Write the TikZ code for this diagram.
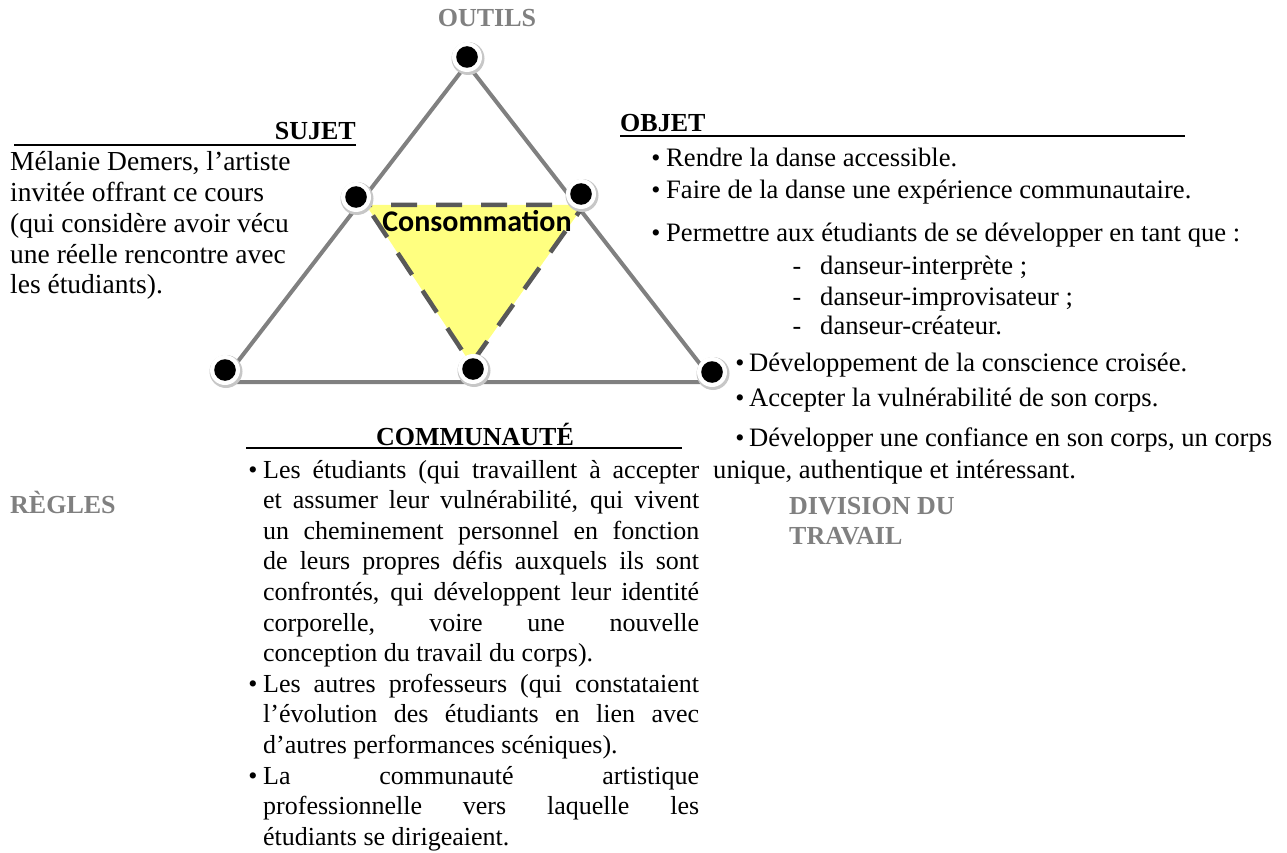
\documentclass[tikz,border=0pt]{standalone}
\usepackage{fontspec}
\setmainfont{Liberation Serif}
\newfontfamily\calibrifont{Carlito}
\usetikzlibrary{calc}
\definecolor{headgray}{RGB}{128,128,128}
\definecolor{edgegray}{RGB}{128,128,128}
\definecolor{dashgray}{RGB}{89,89,89}
\definecolor{consyellow}{RGB}{255,255,128}
\begin{document}
\begin{tikzpicture}[x=1pt,y=-1pt,
  txt/.style={inner sep=0pt, anchor=base west, font=\fontsize{26}{30}\selectfont},
  wtxt/.style={inner sep=0pt, anchor=base west, font=\fontsize{26.6}{30}\selectfont},
  stxt/.style={inner sep=0pt, anchor=base west, font=\fontsize{27.5}{30}\selectfont},
  head/.style={inner sep=0pt, anchor=base west, font=\fontsize{26}{30}\selectfont\bfseries},
  grayhead/.style={head, text=headgray},
  bul/.style={inner sep=0pt, anchor=base, font=\fontsize{26}{30}\selectfont},
  edge/.style={draw=edgegray, line width=4pt, line join=round},
  rule/.style={draw=black, line width=2.3pt},
  consborder/.style={draw=dashgray, line width=4.5pt, dash pattern=on 26pt off 19pt, dash phase=20pt},
]
\useasboundingbox (0,0) rectangle (1287,853);

% outer activity triangle
\coordinate (apex) at (467,64);
\coordinate (cornerL) at (222,382);
\coordinate (cornerR) at (714,382);
\draw[edge] (apex) -- (cornerL) -- (cornerR) -- cycle;

% inner consumption triangle
\coordinate (consTL) at (366,205);
\coordinate (consTR) at (584,205);
\coordinate (consB) at (471,364);
\fill[consyellow] (consTL) -- (consTR) -- (consB) -- cycle;
\draw[consborder] (consTL) -- (consTR) -- (consB) -- cycle;

% vertex dots
\coordinate (dOutils) at (467,57);
\coordinate (dSujet) at (356,197);
\coordinate (dObjet) at (581,194);
\coordinate (dRegles) at (225,370);
\coordinate (dComm) at (473,369);
\coordinate (dDiv) at (712,372);
\foreach \d in {dOutils,dSujet,dObjet,dRegles,dComm,dDiv} {
  \fill[black!22] ($(\d)+(1,1.5)$) circle (16.5);
  \fill[white] (\d) circle (15);
  \fill[black] (\d) circle (10.8);
}

\node[inner sep=0pt, anchor=base, font=\calibrifont\bfseries\fontsize{30}{30}\selectfont] (consLabel) at (477,231) {Consommation};

% pole labels
\node[grayhead, anchor=base] (outils) at (487,27) {OUTILS};
\node[grayhead] (regles) at (10,513) {RÈGLES};
\node[grayhead] (division) at (789,514) {DIVISION DU};
\node[grayhead] (travail) at (789,544) {TRAVAIL};

% subject
\node[head, anchor=base east] (sujet) at (356,140) {SUJET};
\draw[rule] ([yshift=-5pt]sujet.base east) -- ++(-342,0);
\node[stxt] (s1) at (10,171) {Mélanie Demers, l’artiste};
\node[stxt] (s2) at (10,202) {invitée offrant ce cours};
\node[stxt] (s3) at (10,233) {(qui considère avoir vécu};
\node[stxt] (s4) at (10,263) {une réelle rencontre avec};
\node[stxt] (s5) at (10,293) {les étudiants).};

% object
\node[head] (objet) at (620,132) {OBJET};
\draw[rule] ([yshift=-4pt]objet.base west) -- ++(565,0);
\node[bul] (ob1) at (656,167) {\textbullet};
\node[wtxt] (o1) at (666,167) {Rendre la danse accessible.};
\node[bul] (ob2) at (656,198) {\textbullet};
\node[wtxt] (o2) at (666,198) {Faire de la danse une expérience communautaire.};
\node[bul] (ob3) at (656,241) {\textbullet};
\node[wtxt] (o3) at (666,241) {Permettre aux étudiants de se développer en tant que :};
\node[bul] (od1) at (797,274) {-};
\node[wtxt] (o4) at (820,274) {danseur-interprète ;};
\node[bul] (od2) at (797,305) {-};
\node[wtxt] (o5) at (820,305) {danseur-improvisateur ;};
\node[bul] (od3) at (797,334) {-};
\node[wtxt] (o6) at (820,334) {danseur-créateur.};
\node[bul] (ob4) at (740,371) {\textbullet};
\node[wtxt] (o7) at (749,371) {Développement de la conscience croisée.};
\node[bul] (ob5) at (740,406) {\textbullet};
\node[wtxt] (o8) at (749,406) {Accepter la vulnérabilité de son corps.};
\node[bul] (ob6) at (740,446) {\textbullet};
\node[wtxt] (o9) at (749,446) {Développer une confiance en son corps, un corps};
\node[wtxt] (o10) at (713,478) {unique, authentique et intéressant.};

% community
\node[head, anchor=base] (comm) at (475,445) {COMMUNAUTÉ};
\draw[rule] (246,448) coordinate (commRuleL) -- (682,448) coordinate (commRuleR);
\newcommand{\jline}[1]{\makebox[436pt][s]{#1}}
\node[bul] (cb1) at (253,478) {\textbullet};
\node[txt] (c1) at (263,478) {\jline{Les étudiants (qui travaillent à accepter}};
\node[txt] (c2) at (263,508.6) {\jline{et assumer leur vulnérabilité, qui vivent}};
\node[txt] (c3) at (263,539.2) {\jline{un cheminement personnel en fonction}};
\node[txt] (c4) at (263,569.8) {\jline{de leurs propres défis auxquels ils sont}};
\node[txt] (c5) at (263,600.4) {\jline{confrontés, qui développent leur identité}};
\node[txt] (c6) at (263,631) {\jline{corporelle, voire une nouvelle}};
\node[txt] (c7) at (263,661.6) {conception du travail du corps).};
\node[bul] (cb2) at (253,692.2) {\textbullet};
\node[txt] (c8) at (263,692.2) {\jline{Les autres professeurs (qui constataient}};
\node[txt] (c9) at (263,722.8) {\jline{l’évolution des étudiants en lien avec}};
\node[txt] (c10) at (263,753.4) {d’autres performances scéniques).};
\node[bul] (cb3) at (253,784) {\textbullet};
\node[txt] (c11) at (263,784) {\jline{La communauté artistique}};
\node[txt] (c12) at (263,814.6) {\jline{professionnelle vers laquelle les}};
\node[txt] (c13) at (263,845.2) {étudiants se dirigeaient.};
\end{tikzpicture}
\end{document}
